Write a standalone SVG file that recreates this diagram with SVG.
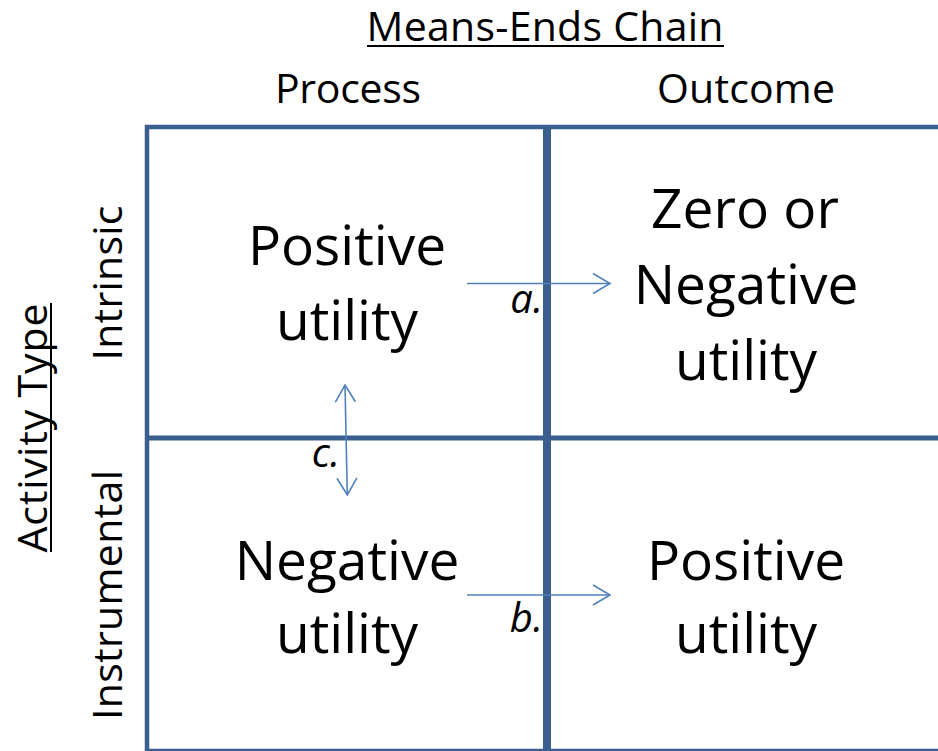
<svg xmlns="http://www.w3.org/2000/svg" width="938" height="751" viewBox="0 0 938 751">
  <style>
    .grid { stroke: #3A5F8E; fill: none; }
    .lbl { font-family: "Open Sans", "Liberation Sans", sans-serif; fill: #000; }
    .head { font-size: 41px; }
    .big { font-size: 55px; text-anchor: middle; }
    .tag { font-size: 40px; font-style: italic; text-anchor: end; }
    .link { stroke: #4F81BD; stroke-width: 1.6; fill: none; }
    .uline { stroke: #000; stroke-width: 2; }
  </style>
  <defs>
    <marker id="chev" viewBox="0 0 20 24" refX="18" refY="12" markerWidth="20" markerHeight="24" markerUnits="userSpaceOnUse" orient="auto-start-reverse">
      <path d="M1,2 L18,12 L1,22" fill="none" stroke="#4F81BD" stroke-width="1.6"/>
    </marker>
  </defs>

  <rect width="938" height="751" fill="#fff"/>

  <!-- headings -->
  <g id="heading-means-ends">
    <text class="lbl head" x="545" y="41" text-anchor="middle" textLength="357">Means-Ends Chain</text>
    <line class="uline" x1="367" y1="46" x2="724" y2="46"/>
  </g>
  <g id="col-process"><text class="lbl head" x="348" y="103" text-anchor="middle" textLength="146">Process</text></g>
  <g id="col-outcome"><text class="lbl head" x="746" y="103" text-anchor="middle" textLength="178">Outcome</text></g>
  <g id="heading-activity-type">
    <text class="lbl head" transform="translate(47,428) rotate(-90)" text-anchor="middle" textLength="249">Activity Type</text>
    <line class="uline" x1="51" y1="303" x2="51" y2="552"/>
  </g>
  <g id="row-intrinsic"><text class="lbl head" transform="translate(122,283) rotate(-90)" text-anchor="middle" textLength="155">Intrinsic</text></g>
  <g id="row-instrumental"><text class="lbl head" transform="translate(122,595) rotate(-90)" text-anchor="middle" textLength="250">Instrumental</text></g>

  <!-- grid -->
  <g id="grid">
    <path class="grid" stroke-width="4.5" d="M147,751 V127 H938"/>
    <line class="grid" stroke-width="5" x1="147" y1="438" x2="938" y2="438"/>
    <line class="grid" stroke-width="8" x1="547" y1="127" x2="547" y2="751"/>
    <line class="grid" stroke-width="4.5" x1="147" y1="751" x2="938" y2="751"/>
  </g>

  <!-- cells -->
  <g id="cell-process-intrinsic">
    <text class="lbl big" x="347" y="265">Positive</text>
    <text class="lbl big" x="347" y="340">utility</text>
  </g>
  <g id="cell-outcome-intrinsic">
    <text class="lbl big" x="745" y="228">Zero or</text>
    <text class="lbl big" x="746" y="304">Negative</text>
    <text class="lbl big" x="746" y="380">utility</text>
  </g>
  <g id="cell-process-instrumental">
    <text class="lbl big" x="347" y="580">Negative</text>
    <text class="lbl big" x="347" y="653">utility</text>
  </g>
  <g id="cell-outcome-instrumental">
    <text class="lbl big" x="746" y="580">Positive</text>
    <text class="lbl big" x="746" y="653">utility</text>
  </g>

  <!-- connectors -->
  <g id="connectors">
    <line class="link" x1="467" y1="283.5" x2="610" y2="283.5" marker-end="url(#chev)"/>
    <line class="link" x1="467" y1="595" x2="610" y2="595" marker-end="url(#chev)"/>
    <line class="link" x1="345" y1="385" x2="347.3" y2="495" marker-start="url(#chev)" marker-end="url(#chev)"/>
    <text class="lbl tag" x="543" y="313">a.</text>
    <text class="lbl tag" x="543" y="632">b.</text>
    <text class="lbl tag" x="340" y="467">c.</text>
  </g>
</svg>
